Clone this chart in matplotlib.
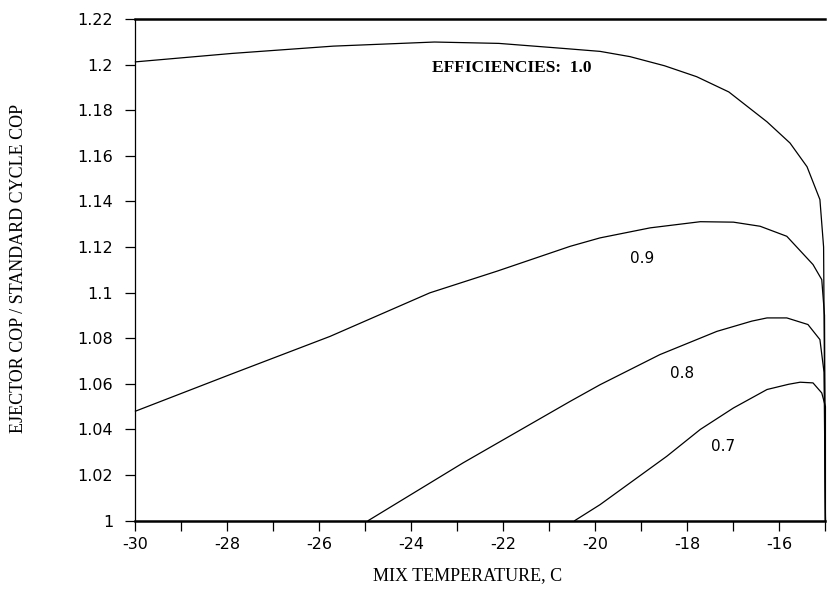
import matplotlib
matplotlib.use("Agg")
import matplotlib.pyplot as plt
from matplotlib.ticker import MultipleLocator, FuncFormatter

plt.rcParams['axes.unicode_minus'] = False

# Data (mix temperature, C ; COP ratio)
x_100 = [-30, -27.9, -25.7, -23.5, -22.1, -20.7, -19.9, -19.25, -18.5, -17.8, -17.1, -16.27, -15.77, -15.4, -15.12, -15.04, -15.0]
y_100 = [1.2012, 1.2049, 1.2081, 1.2099, 1.2093, 1.2071, 1.2058, 1.2035, 1.1995, 1.1947, 1.188, 1.1749, 1.1656, 1.1552, 1.1408, 1.12, 1.0]

x_090 = [-30, -27.95, -25.77, -23.6, -22.14, -20.55, -19.9, -18.81, -17.72, -17.0, -16.42, -15.84, -15.27, -15.08, -15.02, -15.0]
y_090 = [1.048, 1.064, 1.0808, 1.0999, 1.1094, 1.1203, 1.124, 1.1284, 1.1311, 1.1309, 1.1291, 1.1247, 1.1123, 1.1057, 1.09, 1.0]

x_080 = [-24.94, -22.88, -20.55, -19.9, -18.6, -17.36, -16.6, -16.27, -15.84, -15.38, -15.12, -15.03, -15.0]
y_080 = [1.0, 1.0253, 1.0523, 1.0596, 1.0728, 1.083, 1.0875, 1.0889, 1.0889, 1.086, 1.0794, 1.065, 1.0]

x_070 = [-20.45, -19.9, -18.45, -17.72, -17.0, -16.27, -15.8, -15.55, -15.27, -15.08, -15.0, -15.0]
y_070 = [1.0, 1.007, 1.0282, 1.04, 1.0494, 1.0575, 1.0598, 1.0607, 1.0604, 1.056, 1.05, 1.0]

curve_labels = ["EFFICIENCIES:  1.0", "0.9", "0.8", "0.7"]
label_x = [-23.55, -18.98, -18.12, -17.23]
label_y = [1.1983, 1.1148, 1.0647, 1.0325]

fig = plt.figure(figsize=(8.28, 5.90), dpi=100)
ax = fig.add_axes([0.1636, 0.1176, 0.8333, 0.8502])

for xs, ys in [(x_100, y_100), (x_090, y_090), (x_080, y_080), (x_070, y_070)]:
    ax.plot(xs, ys, color='black', lw=0.9, clip_on=False, solid_joinstyle='round')

for i, (t, lx, ly) in enumerate(zip(curve_labels, label_x, label_y)):
    if i == 0:
        ax.text(lx, ly, t, ha='left', va='center', family='Liberation Serif',
                fontsize=12.5, fontweight='bold')
    else:
        ax.text(lx, ly, t, ha='center', va='center', family='DejaVu Sans', fontsize=11)

ax.set_xlim(-30, -15)
ax.set_ylim(1.0, 1.22)

ax.spines['right'].set_visible(False)
ax.spines['top'].set_linewidth(1.8)
ax.spines['bottom'].set_linewidth(1.8)
ax.spines['left'].set_linewidth(0.9)

ax.xaxis.set_major_locator(MultipleLocator(2))
ax.xaxis.set_minor_locator(MultipleLocator(1))
ax.yaxis.set_major_locator(MultipleLocator(0.02))
ax.xaxis.set_major_formatter(FuncFormatter(lambda v, p: '%d' % round(v)))
ax.yaxis.set_major_formatter(FuncFormatter(lambda v, p: ('%.2f' % v).rstrip('0').rstrip('.')))

ax.tick_params(axis='both', which='both', direction='out', length=7, width=0.9, color='black')
ax.tick_params(axis='x', which='major', pad=5)
ax.tick_params(axis='y', which='major', pad=9)
for lab in ax.get_xticklabels() + ax.get_yticklabels():
    lab.set_fontfamily('DejaVu Sans')
    lab.set_fontsize(11.5)

fig.text(0.565, 0.010, "MIX TEMPERATURE, C", ha='center', va='bottom',
         family='Liberation Serif', fontsize=13)
fig.text(0.012, 0.545, "EJECTOR COP / STANDARD CYCLE COP", ha='left', va='center',
         rotation=90, family='Liberation Serif', fontsize=13)

fig.savefig("out.png", dpi=100, facecolor='white')
